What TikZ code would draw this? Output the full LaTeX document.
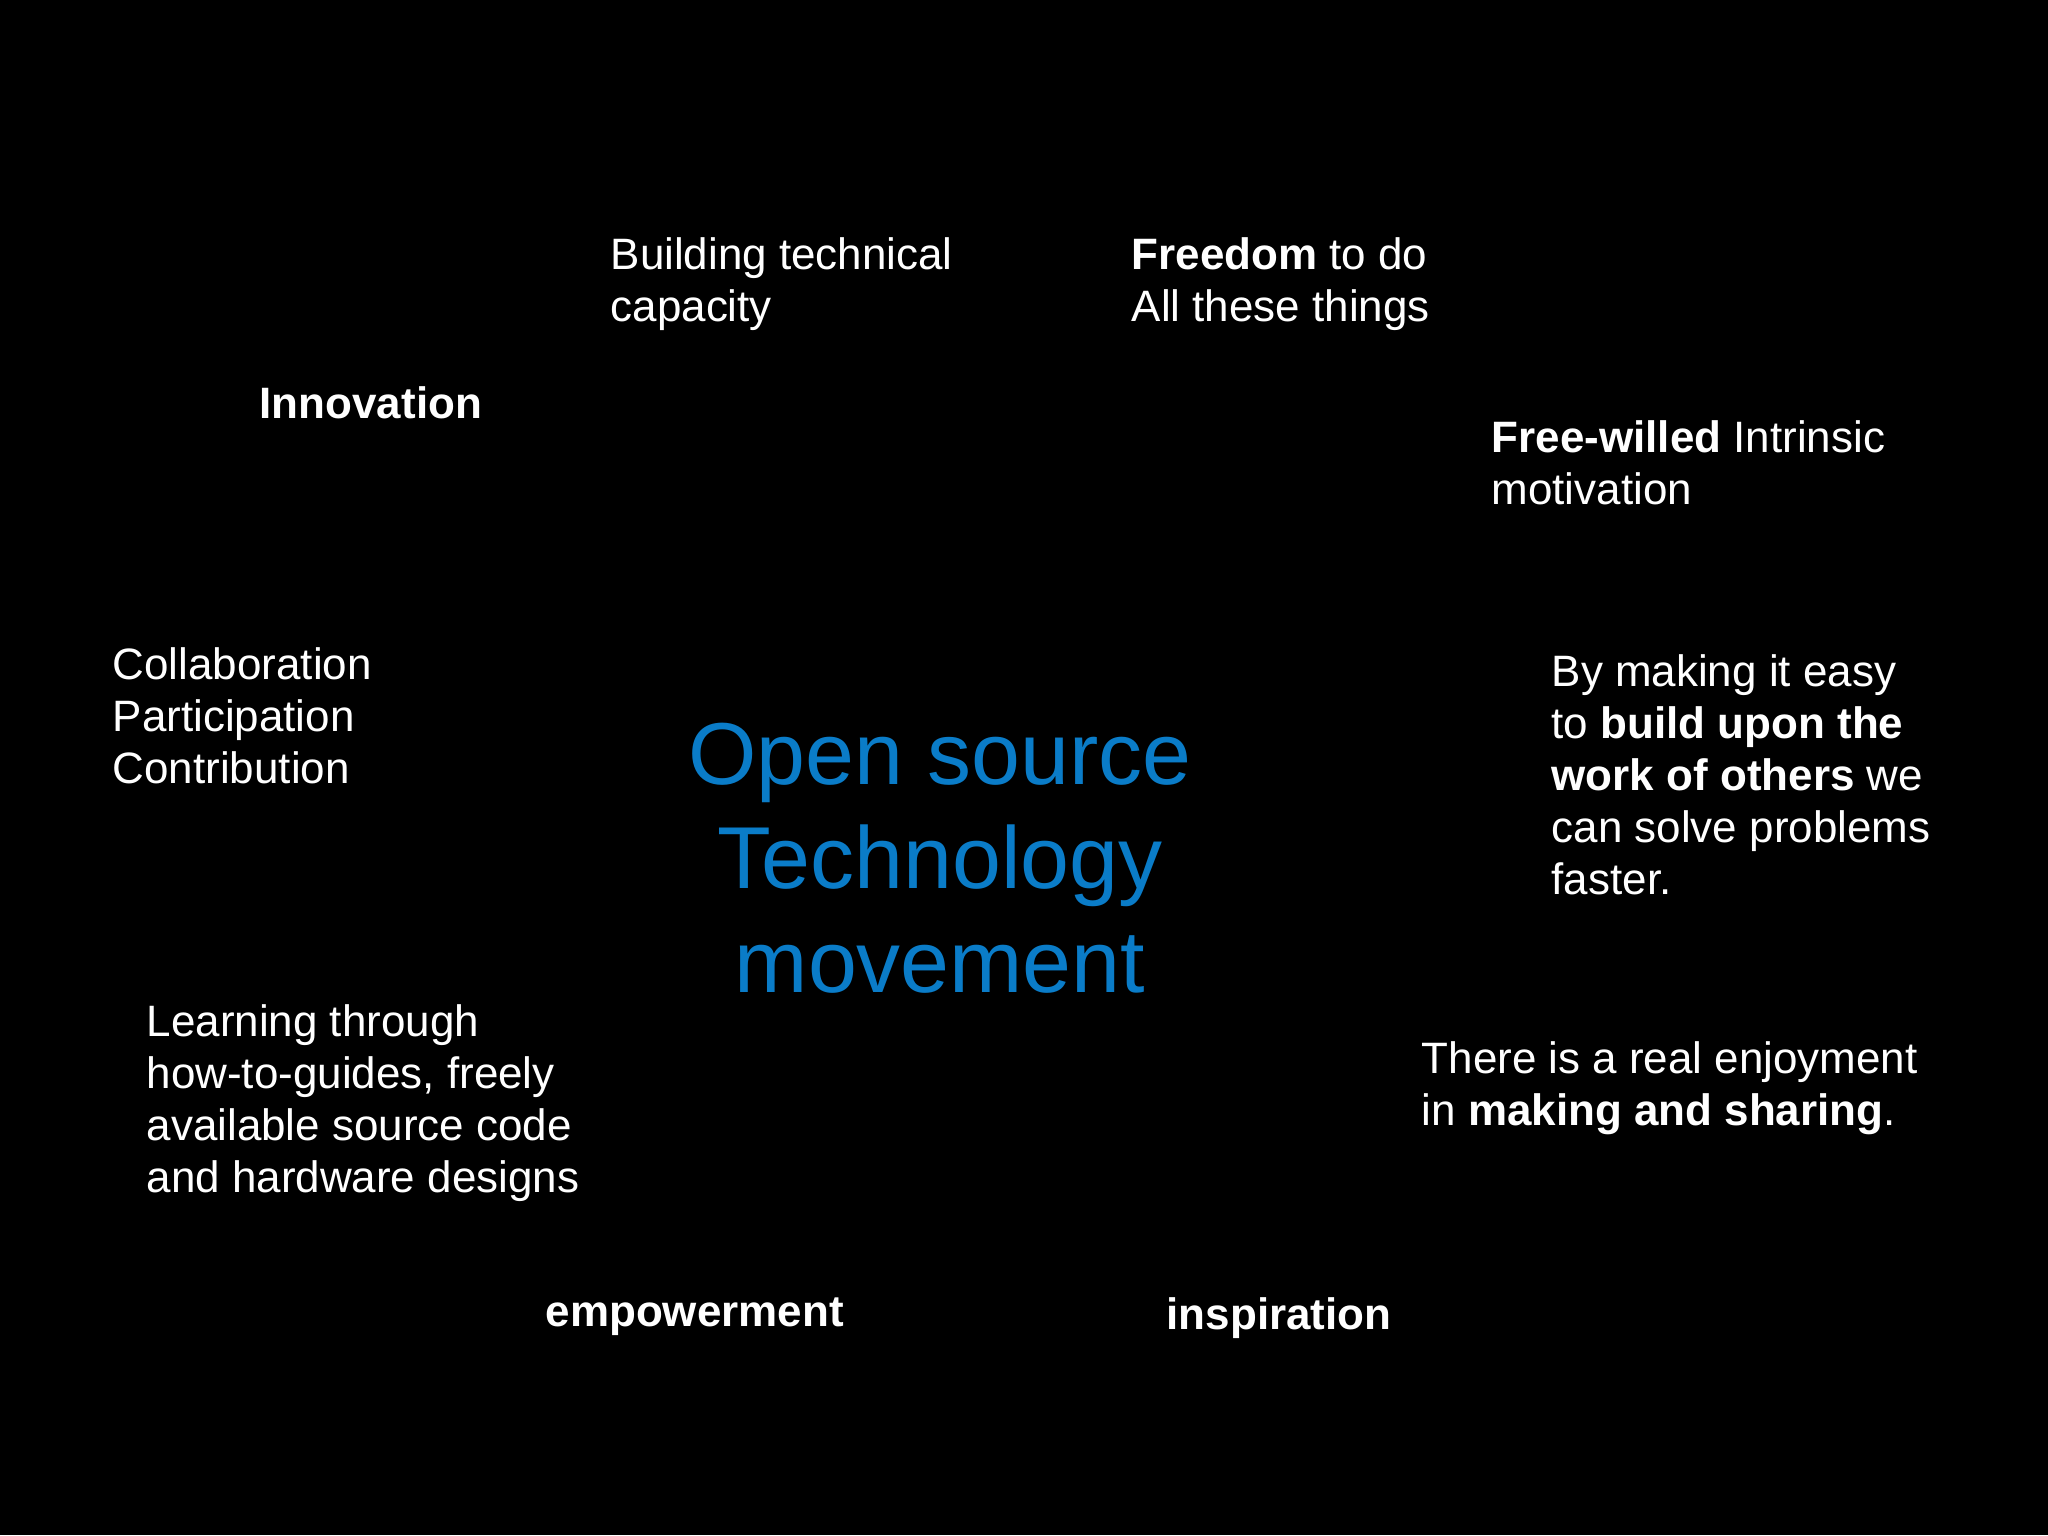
\documentclass[tikz,border=0pt]{standalone}
\usepackage{fontspec}
\setmainfont{Liberation Sans}
\definecolor{titleblue}{HTML}{0A7CC8}
\begin{document}
\begin{tikzpicture}[x=0.01cm,y=-0.01cm,
  txt/.style={text=white,anchor=north west,inner sep=0pt,align=left,font=\fontsize{12.5}{14.8}\selectfont},
  ttl/.style={text=titleblue,anchor=north,inner sep=0pt,align=center,font=\fontsize{25}{29.6}\selectfont}]
\fill[black] (0,0) rectangle (2048,1535);
\useasboundingbox (0,0) rectangle (2048,1535);
\node[txt] (build) at (610,237) {Building technical\\capacity};
\node[txt] (free) at (1131,237) {\textbf{Freedom} to do\\All these things};
\node[txt] (innov) at (259,386) {\textbf{Innovation}};
\node[txt] (will) at (1491,420) {\textbf{Free-willed} Intrinsic\\motivation};
\node[txt] (collab) at (112,647) {Collaboration\\Participation\\Contribution};
\node[txt] (easy) at (1551,654) {By making it easy\\to \textbf{build upon the}\\\textbf{work of others} we\\can solve problems\\faster.};
\node[ttl] (title) at (940,722) {Open source\\ Technology\\ movement};
\node[txt] (learn) at (146,1004) {Learning through\\how-to-guides, freely\\available source code\\and hardware designs};
\node[txt] (enjoy) at (1421,1041) {There is a real enjoyment\\in \textbf{making and sharing}.};
\node[txt] (emp) at (545,1297) {\textbf{empowerment}};
\node[txt] (insp) at (1166,1297) {\textbf{inspiration}};
\end{tikzpicture}
\end{document}
